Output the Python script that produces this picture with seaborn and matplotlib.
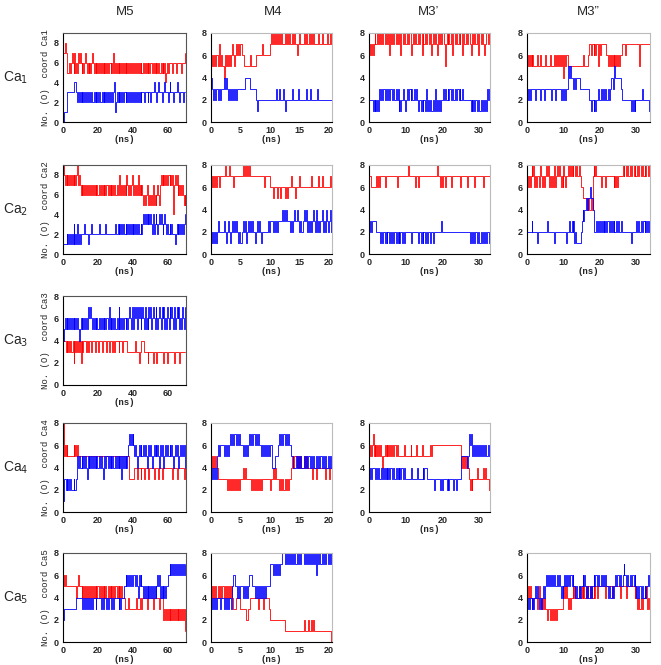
import numpy as np
import matplotlib
matplotlib.use("Agg")
import matplotlib.pyplot as plt
import seaborn as sns

# column / row labels
col_titles = ["M5", "M4", "M3\u2019", "M3\u201d"]
row_labels = ["Ca$_1$", "Ca$_2$", "Ca$_3$", "Ca$_4$", "Ca$_5$"]

# run length (ns) and x ticks per column
col_dur = [70, 20.5, 33, 34]
col_xlim = [70.3, 20.5, 33, 34]
col_xticks = [[0, 20, 40, 60], [0, 5, 10, 15, 20], [0, 10, 20, 30], [0, 10, 20, 30]]

# coordination numbers, one digit per sample
m5_ca1_red = ("7787655656" "7657565767" "6565676565" "6567656565" "6565656565"
              "6566565756" "5656565656" "5656565656" "6565656565" "5656565656"
              "6565656565" "5656564565" "6666566656" "6666566667")
m5_ca1_blue = ("0111233333" "3334432323" "2323232322" "3232232323" "2322323232"
               "3232232341" "2323232323" "3232323232" "2323232323" "3323332332"
               "3334332343" "3323343332" "3433323334" "3323332333")
m4_ca1_red = ("565656" "657565" "546565" "656765" "676767" "665555" "556555"
              "556666" "667666" "666678" "787878" "787877" "787878" "778787"
              "767877" "787877" "878787" "777877" "787777" "877878")
m4_ca1_blue = ("432323" "323233" "343432" "323232" "323333" "333444" "443333"
               "332122" "222222" "222222" "222232" "232223" "212222" "223222"
               "223222" "222322" "232222" "223222" "222222" "222222")
m3a_ca1_red = ("6767" "6787" "7878" "7878" "8787" "7868" "7878" "8787" "7868"
               "8787" "7878" "8767" "8787" "7878" "8687" "7878" "8786" "7878"
               "8768" "7878" "8757" "8787" "7868" "8787" "7878" "8687" "7878"
               "8767" "8787" "7868" "8787" "7678" "8786")
m3a_ca1_blue = ("2222" "1212" "1213" "2323" "3232" "2323" "3232" "2323" "1212"
                "2321" "2323" "3232" "2323" "2122" "1212" "2131" "2121" "1213"
                "2121" "2122" "3232" "2323" "3232" "2323" "3232" "2322" "2222"
                "2212" "1212" "2121" "1212" "2121" "3232")
m3b_ca1_red = ("6565" "6565" "5556" "5565" "5555" "6555" "5655" "5565" "6565"
               "6566" "4656" "6555" "5555" "5555" "5555" "5565" "5556" "7767"
               "7676" "7757" "6777" "7776" "6565" "6565" "6565" "6566" "7777"
               "6777" "7777" "7777" "7775" "7777" "7777" "7777")
m3b_ca1_blue = ("3232" "3333" "3233" "3323" "3332" "3333" "3323" "3332" "3333"
                "3232" "2323" "3545" "4443" "4344" "4433" "3333" "3333" "2212"
                "2121" "2232" "2323" "3232" "2323" "4434" "5444" "4443" "2222"
                "2222" "2212" "1212" "2222" "2232" "2222" "2212")

m5_ca2_red = ("9878787878" "7878789787" "6767676767" "7676767676" "6767676767"
              "7676767676" "6767867676" "7687676786" "6767686767" "6565676565"
              "6575656765" "7878787878" "8787847878" "6767676565")
m5_ca2_blue = ("1111212121" "2131213121" "2222322212" "2232222222" "2322222232"
               "2222222223" "2232323232" "2323232323" "2323232232" "3434343434"
               "3242343234" "3432343232" "2323222123" "2323232334")
m4_ca2_red = ("767676" "776777" "778777" "877767" "777777" "787878" "787777"
              "777777" "777767" "777766" "656665" "665666" "656566" "676665"
              "666766" "666666" "667666" "666766" "676666" "666767")
m4_ca2_blue = ("212121" "232222" "232123" "212323" "232121" "232312" "323232"
               "212323" "212222" "223233" "323232" "333343" "434333" "232343"
               "343232" "343423" "232343" "242323" "342324" "323423")
m3a_ca2_red = ("7766" "6666" "7676" "7777" "7677" "7777" "7777" "7767" "7777"
               "7777" "7787" "7777" "7767" "7677" "7777" "7777" "7777" "7777"
               "7787" "7676" "7767" "7777" "7677" "7777" "7776" "7777" "7767"
               "7777" "7767" "7777" "7776" "7777" "7777")
m3a_ca2_blue = ("2323" "3333" "2222" "1212" "2121" "2212" "1212" "2121" "2122"
                "1212" "2222" "2212" "2222" "2122" "1212" "2121" "2212" "2122"
                "2222" "2232" "2222" "2222" "2222" "2222" "2222" "2222" "2222"
                "2122" "1212" "2121" "1212" "2121" "2212")
m3b_ca2_red = ("7676" "7878" "6767" "7687" "7676" "7878" "6767" "7686" "7878"
               "7676" "8767" "7878" "7878" "8787" "7876" "6655" "5545" "4454"
               "7878" "7777" "7677" "7767" "7777" "7776" "7676" "7777" "7878"
               "8787" "7878" "8787" "7878" "8787" "7878" "8787")
m3b_ca2_blue = ("2222" "2322" "2221" "2222" "2222" "2232" "2222" "2212" "2222"
                "2222" "2221" "2232" "2323" "1211" "1112" "3434" "4545" "5655"
                "4322" "3232" "3232" "3232" "3323" "2323" "2232" "3223" "2222"
                "2222" "2212" "2222" "3232" "2323" "3232" "3232")

m5_ca3_red = ("4443434343" "3424343434" "2434443434" "4434443444" "3444344443"
              "4434443434" "4443444344" "4443333333" "3343332334" "4433332333"
              "3323332333" "3333233323" "3333332333" "3323333333")
m5_ca3_blue = ("4565656565" "6565656545" "6565656577" "6765656565" "5656565656"
               "6575656565" "5657565656" "6565676576" "5767576756" "7657565767"
               "5676576567" "6576756576" "5767657567" "6756576567")

m5_ca4_red = ("8565655555" "5565656555" "5555555555" "5555555555" "5555555555"
              "5555555555" "5555555555" "5555533333" "3444344434" "4434444344"
              "4443444434" "4434444444" "4444344443" "4444444344")
m5_ca4_blue = ("1332323232" "2232235454" "4545454354" "5454545454" "4545434545"
               "5454545445" "4545453545" "4545676767" "6565456565" "5656545656"
               "5456565654" "6565456565" "5656545656" "5456565654")
m4_ca4_red = ("545454" "433333" "333323" "232323" "232323" "343433" "333232"
              "323232" "323333" "333323" "343433" "323232" "232323" "345455"
              "545454" "454544" "444344" "434444" "444434" "443444")
m4_ca4_blue = ("434343" "565666" "656565" "676767" "767676" "656565" "676767"
               "767676" "656565" "656566" "444555" "676767" "767676" "655444"
               "545454" "454545" "545454" "454545" "545454" "454545")
m3a_ca4_red = ("5656" "7565" "6565" "6545" "5656" "5656" "5656" "6565" "5555"
               "5565" "5555" "5655" "5556" "5555" "5655" "5555" "5565" "6666"
               "6666" "6666" "6666" "6666" "6666" "6666" "6666" "4545" "4544"
               "3232" "3333" "3433" "3334" "3343" "3323")
m3a_ca4_blue = ("3434" "4443" "4343" "3434" "3434" "3434" "4343" "3434" "3434"
                "4343" "3333" "3343" "3333" "4333" "3343" "4443" "3333" "3323"
                "3333" "3232" "3333" "2323" "3332" "3323" "3333" "5555" "5545"
                "7676" "5656" "5656" "5656" "6565" "5656")

m5_ca5_red = ("6565555555" "5555545655" "5454545454" "4545454545" "5454545454"
              "4545454545" "5454545444" "3333433333" "3334333433" "4444434444"
              "4434444443" "4443232323" "2323232323" "2323232321")
m5_ca5_blue = ("2333333333" "3333344444" "4434343434" "4343444344" "4443434443"
               "4344434344" "4443434445" "5656565656" "6656546565" "5454545454"
               "5454545656" "4545454556" "6767676767" "7676767677")
m4_ca5_red = ("545454" "454545" "545454" "545433" "344443" "333322" "334444"
              "444434" "444344" "444322" "222222" "222222" "211111" "111111"
              "111111" "121112" "112121" "111111" "111111" "111101")
m4_ca5_blue = ("434343" "444344" "434343" "443566" "554545" "545454" "566655"
               "545454" "545454" "555577" "767676" "767788" "878787" "878787"
               "787878" "878787" "878787" "868787" "787878" "878787")
m3b_ca5_red = ("4545" "4434" "4443" "4543" "4434" "3323" "3232" "3323" "2333"
               "3334" "4545" "4343" "4454" "5444" "4544" "5454" "4545" "5454"
               "4545" "5455" "5555" "5545" "5555" "5455" "5555" "5545" "5555"
               "5455" "5555" "5545" "4343" "3434" "4545" "3434")
m3b_ca5_blue = ("3434" "4343" "4545" "4343" "4454" "5656" "5656" "6565" "5656"
                "5454" "5656" "5656" "6565" "5454" "4545" "5656" "5454" "4545"
                "5656" "6565" "5656" "6565" "5454" "4545" "5656" "6565" "5676"
                "6565" "5656" "6565" "4545" "5454" "4545" "5656")

# (row, col) -> (red trace, blue trace)
panels = {
    (0, 0): (m5_ca1_red, m5_ca1_blue), (0, 1): (m4_ca1_red, m4_ca1_blue),
    (0, 2): (m3a_ca1_red, m3a_ca1_blue), (0, 3): (m3b_ca1_red, m3b_ca1_blue),
    (1, 0): (m5_ca2_red, m5_ca2_blue), (1, 1): (m4_ca2_red, m4_ca2_blue),
    (1, 2): (m3a_ca2_red, m3a_ca2_blue), (1, 3): (m3b_ca2_red, m3b_ca2_blue),
    (2, 0): (m5_ca3_red, m5_ca3_blue),
    (3, 0): (m5_ca4_red, m5_ca4_blue), (3, 1): (m4_ca4_red, m4_ca4_blue),
    (3, 2): (m3a_ca4_red, m3a_ca4_blue),
    (4, 0): (m5_ca5_red, m5_ca5_blue), (4, 1): (m4_ca5_red, m4_ca5_blue),
    (4, 3): (m3b_ca5_red, m3b_ca5_blue),
}


def levels(s):
    return np.array([int(c) for c in s])


sns.set_style("white")
plt.rcParams['font.family'] = ['Liberation Sans', 'DejaVu Sans']

W, H = 661, 665
fig = plt.figure(figsize=(W / 100, H / 100), dpi=100)

col_left = [63, 211, 369, 527]
col_width = [123, 121, 121, 123]
row_top = [33, 165, 296, 423, 553]
ax_h = 89
col_center = [125, 273, 429, 588]

for c, title in enumerate(col_titles):
    fig.text(col_center[c] / W, 1 - 12 / H, title, ha='center', va='center', fontsize=9.5)
for r, lab in enumerate(row_labels):
    fig.text(3 / W, 1 - (row_top[r] + ax_h / 2) / H, lab, ha='left', va='center', fontsize=10)

for (r, c), (red, blue) in panels.items():
    ax = fig.add_axes([col_left[c] / W, 1 - (row_top[r] + ax_h) / H,
                       col_width[c] / W, ax_h / H])
    for s, color in [(red, '#ff0000'), (blue, '#0000ff')]:
        v = levels(s)
        t = np.linspace(0, col_dur[c], len(v))
        sns.lineplot(x=t, y=v, ax=ax, color=color, lw=0.6, estimator=None,
                     drawstyle='steps-post')
    ymax = 9 if (c == 0 and r < 2) else 8
    ax.set_ylim(0, ymax)
    ax.set_xlim(0, col_xlim[c])
    ax.set_yticks([0, 2, 4, 6, 8])
    ax.set_xticks(col_xticks[c])
    ax.tick_params(length=2, width=0.6, pad=1, labelsize=6.5)
    for lbl in ax.get_xticklabels() + ax.get_yticklabels():
        lbl.set_fontweight('bold')
    ax.set_xlabel('(ns)', family=['Liberation Mono', 'DejaVu Sans Mono'],
                  fontsize=6.5, fontweight='bold', labelpad=0)
    if c == 0:
        ax.set_ylabel('No. (O)  coord Ca%d' % (r + 1),
                      family=['Liberation Mono', 'DejaVu Sans Mono'],
                      fontsize=6.5, labelpad=3)
    else:
        ax.set_ylabel('')
    edge = '#555555' if c == 0 else '#bbbbbb'
    for side in ['top', 'right']:
        ax.spines[side].set_color(edge)
        ax.spines[side].set_linewidth(0.8)
    for side in ['left', 'bottom']:
        ax.spines[side].set_color('black')
        ax.spines[side].set_linewidth(0.8)

fig.savefig('out.png', dpi=100)
